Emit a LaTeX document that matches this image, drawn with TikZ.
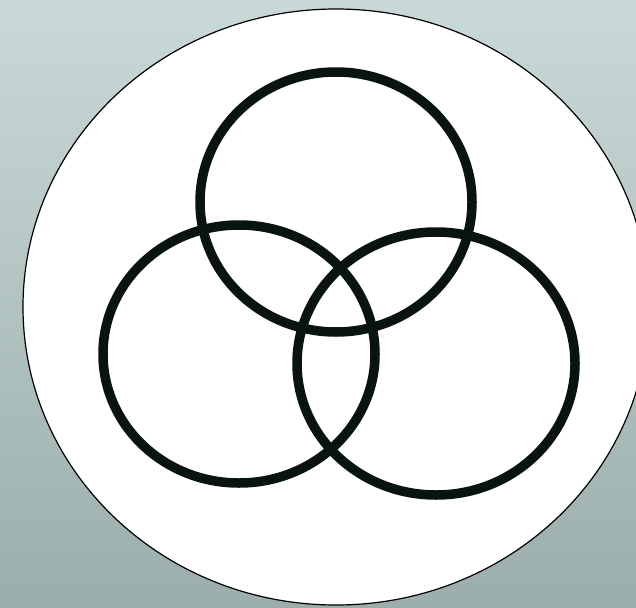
\documentclass[tikz,border=0pt]{standalone}
\usetikzlibrary{shadings}
\definecolor{bgtop}{HTML}{C9D9D7}
\definecolor{bgbot}{HTML}{9BAEAB}
\definecolor{ring}{HTML}{09130F}
\tikzset{ringline/.style={draw=ring,line width=9.5pt}}
\begin{document}
\begin{tikzpicture}[x=1pt,y=-1pt]
\useasboundingbox (0,0) rectangle (636,607);
\clip (0,0) rectangle (636,607);
\shade[top color=bgtop,bottom color=bgbot] (0,0) rectangle (636,607);
\filldraw[fill=white,draw=black,line width=1.2pt] (336,307) ellipse [x radius=313,y radius=298];
\draw[ringline] (336,202) ellipse [x radius=136,y radius=130];
\draw[ringline] (239,354) ellipse [x radius=136,y radius=129];
\draw[ringline] (436,363.5) ellipse [x radius=139,y radius=131.5];
\end{tikzpicture}
\end{document}
